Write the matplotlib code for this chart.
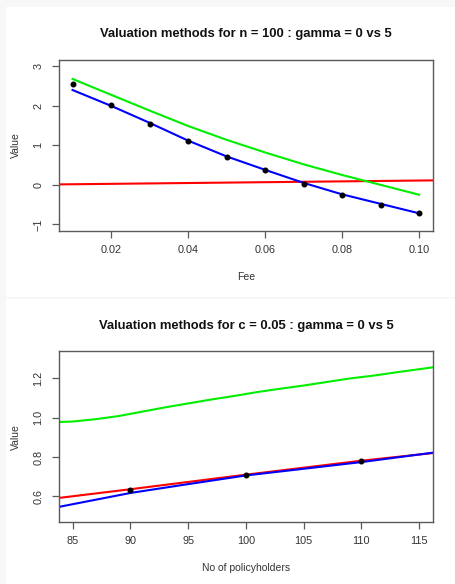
import matplotlib.pyplot as plt
from matplotlib.patches import Rectangle
import numpy as np

plt.rcParams['font.family'] = ['Liberation Sans', 'DejaVu Sans']

# top panel: value against fee (n = 100)
fee = [0.01, 0.02, 0.03, 0.04, 0.05, 0.06, 0.07, 0.08, 0.09, 0.10]
fee_points = [2.54, 2.01, 1.54, 1.10, 0.71, 0.37, 0.03, -0.26, -0.50, -0.71]
fee_blue = [2.40, 2.00, 1.57, 1.12, 0.72, 0.38, 0.05, -0.24, -0.48, -0.72]
fee_green = [2.68, 2.28, 1.88, 1.49, 1.14, 0.82, 0.52, 0.25, 0.00, -0.25]
fee_red_x = [0.0, 0.11]
fee_red = [0.005, 0.12]

# bottom panel: value against number of policyholders (c = 0.05)
holders = [83, 85, 87, 89, 91, 93, 95, 97, 99, 101, 103, 105, 107, 109, 111, 113, 115, 117]
holders_green = [0.976, 0.980, 0.992, 1.008, 1.030, 1.052, 1.072, 1.092, 1.110,
                 1.130, 1.147, 1.163, 1.181, 1.199, 1.213, 1.230, 1.246, 1.262]
holders_red_x = [83, 90, 100, 110, 117]
holders_red = [0.586, 0.636, 0.710, 0.781, 0.825]
holders_blue_x = [83, 90, 95, 100, 105, 110, 117]
holders_blue = [0.537, 0.617, 0.662, 0.706, 0.740, 0.774, 0.828]
holders_pts_x = [90, 100, 110]
holders_pts = [0.634, 0.706, 0.781]

W, H = 455, 584
fig = plt.figure(figsize=(W / 100, H / 100), dpi=100)
fig.patch.set_facecolor('#f7f7f7')
fig.add_artist(Rectangle((6 / W, 1 - 296.5 / H), 1, (296.5 - 7) / H,
                         transform=fig.transFigure, facecolor='white', edgecolor='none', zorder=0))
fig.add_artist(Rectangle((6 / W, 0), 1, 1 - 299 / H,
                         transform=fig.transFigure, facecolor='white', edgecolor='none', zorder=0))

frame_col = '#5a5a5a'
text_col = '#333333'


def style(ax):
    for s in ax.spines.values():
        s.set_color(frame_col)
        s.set_linewidth(1.0)
    ax.tick_params(direction='out', length=5, width=0.9, color=frame_col,
                   labelsize=7.8, labelcolor=text_col, pad=5)
    ax.tick_params(axis='y', pad=6)
    for lab in ax.get_yticklabels():
        lab.set_rotation(90)
        lab.set_va('center')
    ax.set_facecolor('white')


ax1 = fig.add_axes([58.7 / W, 1 - 230.7 / H, (433 - 58.7) / W, (230.7 - 60) / H])
ax1.plot(fee_red_x, fee_red, color='#ff0000', lw=1.5)
ax1.plot(fee, fee_green, color='#00ee00', lw=1.5)
ax1.plot(fee, fee_blue, color='#0000ff', lw=1.5)
ax1.plot(fee, fee_points, 'o', color='black', ms=3.3)
ax1.set_xlim(0.0064, 0.1036)
ax1.set_ylim(-1.16, 3.16)
ax1.set_xticks([0.02, 0.04, 0.06, 0.08, 0.10])
ax1.set_xticklabels(['0.02', '0.04', '0.06', '0.08', '0.10'])
ax1.set_yticks([-1, 0, 1, 2, 3])
style(ax1)
fig.text(246 / W, 1 - 34 / H, 'Valuation methods for n = 100 : gamma = 0 vs 5',
         ha='center', va='center', fontsize=9.4, fontweight='bold', color='#111111')
fig.text(246 / W, 1 - 277 / H, 'Fee', ha='center', va='center', fontsize=7.5, color=text_col)
fig.text(16 / W, 1 - 145 / H, 'Value', ha='center', va='center', rotation=90,
         fontsize=7.5, color=text_col)

ax2 = fig.add_axes([58.7 / W, 1 - 522.3 / H, (433 - 58.7) / W, (522.3 - 351.3) / H])
ax2.plot(holders, holders_green, color='#00ee00', lw=1.5)
ax2.plot(holders_red_x, holders_red, color='#ff0000', lw=1.5)
ax2.plot(holders_blue_x, holders_blue, color='#0000ff', lw=1.5)
ax2.plot(holders_pts_x, holders_pts, 'o', color='black', ms=3.3)
ax2.set_xlim(83.8, 116.2)
ax2.set_ylim(0.468, 1.337)
ax2.set_xticks([85, 90, 95, 100, 105, 110, 115])
ax2.set_yticks([0.6, 0.8, 1.0, 1.2])
ax2.set_yticklabels(['0.6', '0.8', '1.0', '1.2'])
style(ax2)
fig.text(246 / W, 1 - 326 / H, 'Valuation methods for c = 0.05 : gamma = 0 vs 5',
         ha='center', va='center', fontsize=9.4, fontweight='bold', color='#111111')
fig.text(246 / W, 1 - 568 / H, 'No of policyholders', ha='center', va='center',
         fontsize=7.5, color=text_col)
fig.text(16 / W, 1 - 437 / H, 'Value', ha='center', va='center', rotation=90,
         fontsize=7.5, color=text_col)

fig.savefig('out.png', dpi=100, facecolor=fig.get_facecolor())
